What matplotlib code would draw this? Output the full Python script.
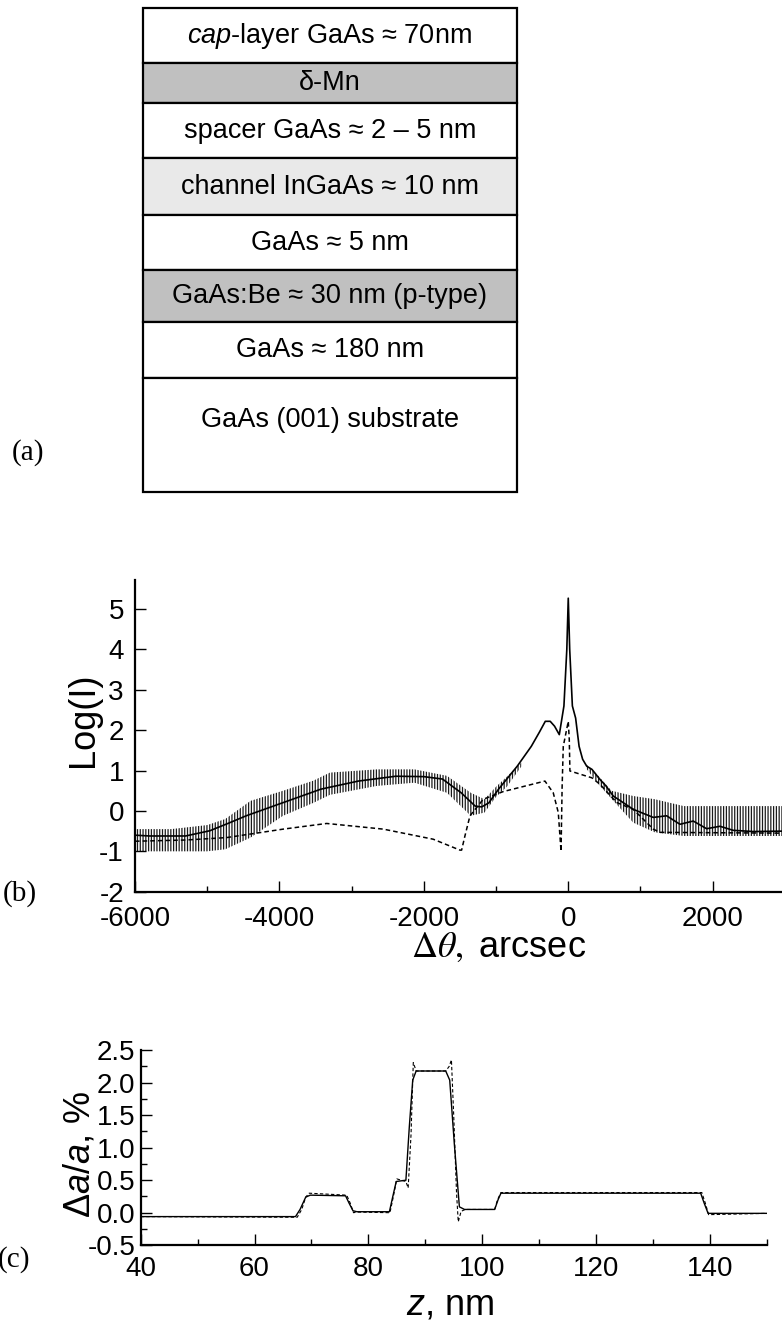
import numpy as np
import matplotlib
matplotlib.use('Agg')
import matplotlib.pyplot as plt
from matplotlib.patches import Rectangle
from matplotlib.ticker import MultipleLocator, FormatStrFormatter

plt.rcParams['font.family'] = ['Liberation Sans', 'DejaVu Sans']
plt.rcParams['mathtext.fontset'] = 'custom'
plt.rcParams['mathtext.rm'] = 'Liberation Sans'
plt.rcParams['mathtext.it'] = 'Liberation Sans:italic'
plt.rcParams['mathtext.bf'] = 'Liberation Sans:bold'
plt.rcParams['axes.unicode_minus'] = False
plt.rcParams['hatch.linewidth'] = 0.9

# (a) layer stack, top to bottom
layer_names = [r'$\mathit{cap}$-layer GaAs ≈ 70nm', 'δ-Mn', 'spacer GaAs ≈ 2 – 5 nm',
               'channel InGaAs ≈ 10 nm', 'GaAs ≈ 5 nm', 'GaAs:Be ≈ 30 nm (p-type)',
               'GaAs ≈ 180 nm', 'GaAs (001) substrate']
layer_fill = ['white', '#c0c0c0', 'white', '#e9e9e9', 'white', '#c0c0c0', 'white', 'white']

# (b) rocking curve: fit (solid), simulated (dashed), measured noise envelope
fit_x = [-6000, -5800, -5300, -4963, -4700, -4460, -3943, -3425, -2907, -2389, -2000,
         -1742, -1483, -1289, -1200, -1100, -965, -706, -512, -400, -318, -250, -190,
         -124, -60, -20, 0, 20, 57, 102, 150, 199, 255, 328, 439, 522, 623, 900, 1177,
         1362, 1547, 1731, 1916, 2101, 2285, 2562, 2960]
fit_y = [-0.6, -0.62, -0.62, -0.49, -0.3, -0.12, 0.21, 0.54, 0.74, 0.86, 0.85,
         0.79, 0.45, 0.12, 0.1, 0.2, 0.54, 1.11, 1.6, 1.95, 2.22, 2.22, 2.1,
         1.89, 2.6, 4.0, 5.27, 4.0, 2.6, 2.3, 1.6, 1.28, 1.11, 1.03, 0.78, 0.62, 0.37, 0.04, -0.16,
         -0.12, -0.33, -0.25, -0.44, -0.38, -0.48, -0.51, -0.5]
sim_x = [-6000, -5300, -4732, -3947, -3346, -2562, -1870, -1500, -1477, -1431, -1361,
         -1177, -900, -323, -208, -138, -120, -100, -85, -69, 0, 14, 23, 328, 439, 670,
         900, 1177, 1270, 2960]
sim_y = [-0.75, -0.72, -0.66, -0.45, -0.31, -0.45, -0.70, -0.97, -0.97, -0.62, -0.12,
         0.29, 0.48, 0.74, 0.45, -0.04, -0.5, -1.0, 0.6, 1.6, 2.22, 1.77, 0.99, 0.82, 0.66, 0.21,
         0.04, -0.45, -0.53, -0.55]
# noisy measured data: low / high envelope, left wing and right wing
noise_left_x = [-6000, -5500, -5000, -4750, -4400, -3950, -3530, -3300, -2650, -2130,
                -1680, -1350, -1160, -1000, -850, -650]
noise_left_lo = [-1.0, -1.0, -1.0, -0.95, -0.66, -0.12, 0.2, 0.4, 0.62, 0.7,
                 0.45, -0.12, -0.04, 0.35, 0.6, 1.1]
noise_left_hi = [-0.45, -0.45, -0.35, -0.2, 0.25, 0.5, 0.75, 0.95, 1.03, 1.03,
                 0.87, 0.45, 0.29, 0.6, 0.85, 1.2]
noise_right_x = [250, 400, 600, 900, 1200, 1600, 2960]
noise_right_lo = [1.05, 0.7, 0.3, -0.29, -0.53, -0.62, -0.62]
noise_right_hi = [1.15, 0.9, 0.5, 0.37, 0.29, 0.12, 0.12]

# (c) strain profile
z_fit = [40, 67.2, 68.0, 69.0, 69.8, 76.0, 76.6, 77.3, 78.0, 83.7, 84.3, 84.9, 86.6,
         87.2, 87.8, 88.4, 93.6, 94.3, 95.1, 96.0, 96.9, 102.2, 102.8, 103.3, 138.4,
         139.0, 139.7, 150]
da_fit = [-0.06, -0.06, 0.05, 0.24, 0.27, 0.26, 0.15, 0.03, 0.015, 0.015, 0.25, 0.48, 0.50,
          1.32, 2.04, 2.18, 2.18, 2.04, 1.07, 0.09, 0.05, 0.05, 0.2, 0.30, 0.30,
          0.15, -0.01, -0.01]
z_sim = [40, 67.5, 68.3, 69.0, 69.6, 76.2, 76.8, 77.4, 78.0, 83.8, 84.4, 85.0, 85.8,
         86.6, 87.0, 87.5, 87.9, 88.4, 93.6, 94.2, 94.6, 95.0, 95.5, 95.8, 96.3, 97.0,
         102.2, 102.7, 103.3, 138.6, 139.2, 139.8, 150]
da_sim = [-0.06, -0.07, 0.05, 0.24, 0.30, 0.27, 0.15, 0.0, 0.01, 0.0, 0.25, 0.52, 0.50,
          0.48, 0.38, 1.2, 2.31, 2.18, 2.18, 2.25, 2.35, 1.5, 0.3, -0.14, 0.02, 0.05,
          0.05, 0.2, 0.31, 0.31, 0.15, -0.03, -0.01]

W, H = 782, 1335
fig = plt.figure(figsize=(W / 100, H / 100), dpi=100)

# overlay in pixel coords for the layer diagram and loose labels
ov = fig.add_axes([0, 0, 1, 1])
ov.set_xlim(0, W)
ov.set_ylim(H, 0)
ov.axis('off')

edges = [8.3, 63.3, 102.7, 158.3, 215, 270, 321.7, 378.3, 491.7]
box_l, box_r = 142.7, 517
for i, (name, fc) in enumerate(zip(layer_names, layer_fill)):
    top, bot = edges[i], edges[i + 1]
    ov.add_patch(Rectangle((box_l, top), box_r - box_l, bot - top,
                           facecolor=fc, edgecolor='black', lw=1.6))
    ty = (top + bot) / 2 if i < len(layer_names) - 1 else top + 42
    ov.text((box_l + box_r) / 2, ty, name, ha='center', va='center', fontsize=19.5)

serif = ['Liberation Serif', 'DejaVu Serif']
ov.text(28, 453, '(a)', ha='center', va='center', fontsize=21, family=serif)
ov.text(20, 894, '(b)', ha='center', va='center', fontsize=21, family=serif)
ov.text(14, 1260, '(c)', ha='center', va='center', fontsize=21, family=serif)


def style_axes(ax, lsize):
    for s in ['top', 'right']:
        ax.spines[s].set_visible(False)
    for s in ['left', 'bottom']:
        ax.spines[s].set_linewidth(1.6)
    ax.tick_params(which='both', direction='in', width=1.0, labelsize=lsize)
    ax.tick_params(which='major', length=8)
    ax.tick_params(which='minor', length=4)


# (b)
axb = fig.add_axes([135 / W, 1 - 891.7 / H, (W - 135) / W, 311.7 / H])
for nx, lo, hi in [(noise_left_x, noise_left_lo, noise_left_hi),
                   (noise_right_x, noise_right_lo, noise_right_hi)]:
    axb.fill_between(nx, lo, hi, facecolor='none', edgecolor='0.1',
                     hatch='||||||', linewidth=0)
axb.plot(fit_x, fit_y, color='black', lw=1.2)
axb.plot(sim_x, sim_y, color='black', lw=1.1, linestyle=(0, (3, 2)))
axb.set_xlim(-6000, 2960)
axb.set_ylim(-2, 5.72)
axb.xaxis.set_major_locator(MultipleLocator(2000))
axb.xaxis.set_minor_locator(MultipleLocator(1000))
axb.yaxis.set_major_locator(MultipleLocator(1))
style_axes(axb, 20)
axb.tick_params(axis='x', pad=10)
axb.tick_params(axis='y', pad=8)
ov.text(84, 720, 'Log(I)', rotation=90, ha='center', va='center', fontsize=26)
ov.text(499, 947, r'$\Delta\theta,$ arcsec', ha='center', va='center', fontsize=26,
        math_fontfamily='stix')

# (c)
axc = fig.add_axes([140.7 / W, 1 - 1245.2 / H, 626 / W, 195 / H])
axc.plot(z_fit, da_fit, color='black', lw=1.0)
axc.plot(z_sim, da_sim, color='black', lw=0.8, linestyle=(0, (3, 2)))
axc.set_xlim(40, 150)
axc.set_ylim(-0.5, 2.5)
axc.xaxis.set_major_locator(MultipleLocator(20))
axc.xaxis.set_minor_locator(MultipleLocator(10))
axc.yaxis.set_major_locator(MultipleLocator(0.5))
axc.yaxis.set_minor_locator(MultipleLocator(0.25))
axc.yaxis.set_major_formatter(FormatStrFormatter('%.1f'))
style_axes(axc, 20)
axc.tick_params(axis='x', pad=8)
axc.tick_params(axis='y', pad=4)
ov.text(80, 1154, r'$\Delta\mathit{a/a}$, %', rotation=90, ha='center', va='center',
        fontsize=26)
ov.text(450, 1305, r'$\mathit{z}$, nm', ha='center', va='center', fontsize=26)

fig.savefig('out.png', dpi=100)
